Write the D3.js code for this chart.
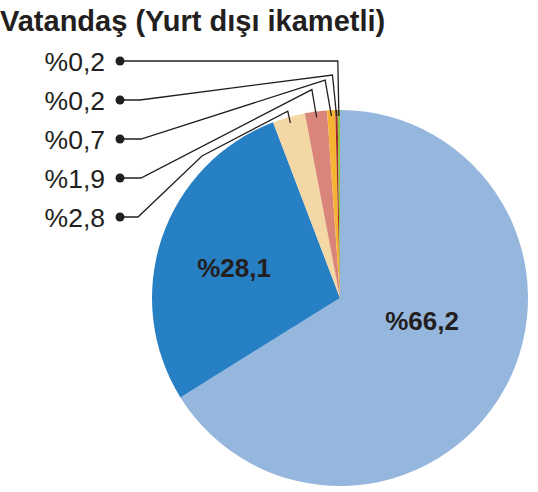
<!DOCTYPE html>
<html>
<head>
<meta charset="utf-8">
<script src="https://cdn.jsdelivr.net/npm/d3@7"></script>
<style>
  body { margin: 0; background: #fff; }
  svg { display: block; font-family: "Liberation Sans", Arial, Helvetica, sans-serif; }
</style>
</head>
<body>
<svg id="chart"></svg>
<script>
// Data
const title = "Vatandaş (Yurt dışı ikametli)";
const categories = ["a", "b", "c", "d", "e", "f", "g"];
const values = [66.2, 28.1, 2.8, 1.9, 0.7, 0.2, 0.2];
const valueLabels = ["%66,2", "%28,1", "%2,8", "%1,9", "%0,7", "%0,2", "%0,2"];
const colors = ["#95b6dd", "#2880c4", "#f3d8a6", "#d9857a", "#f7b334", "#a3262a", "#8dc63f"];

// Constants
const width = 538;
const height = 492;
const cx = 340;
const cy = 298;
const radius = 188;

const svg = d3.select("#chart")
    .attr("width", width)
    .attr("height", height);

svg.append("text")
    .attr("x", 0)
    .attr("y", 31)
    .attr("font-size", 29)
    .attr("font-weight", "bold")
    .attr("fill", "#231f20")
    .text(title);

const pie = d3.pie().sort(null).value(d => d);
const arcs = pie(values);

const arc = d3.arc().innerRadius(0).outerRadius(radius);

const g = svg.append("g")
    .attr("transform", `translate(${cx},${cy})`);

g.selectAll("path")
  .data(arcs)
  .enter()
    .append("path")
    .attr("d", arc)
    .attr("fill", (d, i) => colors[i]);

// Big slices: labels inside
const insideLabels = [
  { i: 0, dx: 82, dy: 23 },
  { i: 1, dx: -106, dy: -30 }
];
g.selectAll("text.inside")
  .data(insideLabels)
  .enter()
    .append("text")
    .attr("class", "inside")
    .attr("x", d => d.dx)
    .attr("y", d => d.dy)
    .attr("dy", "0.36em")
    .attr("text-anchor", "middle")
    .attr("font-size", 26)
    .attr("font-weight", "bold")
    .attr("fill", "#231f20")
    .text(d => valueLabels[d.i]);

// Small slices: labels on the left with leader lines
// order from top: g, f, e, d, c
const outside = [6, 5, 4, 3, 2];
const labelY0 = 61;
const labelStep = 39;
const dotX = 120;
// elbow above the slice (rise above edge, shift left) and bend x near the dot
const elbows = [
  { rise: 52, shift: 1, bend: [] },
  { rise: 35, shift: 4, bend: [140] },
  { rise: 30, shift: 6, bend: [141] },
  { rise: 22, shift: 4, bend: [141] },
  { rise: 6, shift: 1, bend: [202, 138] }
];

const edgePoint = (a, r) => {
  const ang = (a.startAngle + a.endAngle) / 2;
  return [cx + r * Math.sin(ang), cy - r * Math.cos(ang)];
};

outside.forEach((idx, k) => {
  const a = arcs[idx];
  const ly = labelY0 + k * labelStep;
  const [ex, ey] = edgePoint(a, radius - 6);
  const [tx, ty] = edgePoint(a, radius);
  const e = elbows[k];
  const elbow = [tx - e.shift, ty - e.rise];
  let pts;
  if (k === 0) {
    pts = [[ex, ey], [elbow[0], ly], [dotX, ly]];
  } else if (k === 4) {
    pts = [[ex, ey], elbow, [202, 156], [138, ly], [dotX, ly]];
  } else {
    pts = [[ex, ey], elbow, [e.bend[0], ly], [dotX, ly]];
  }
  svg.append("path")
      .attr("d", d3.line()(pts))
      .attr("fill", "none")
      .attr("stroke", "#231f20")
      .attr("stroke-width", 1.3);

  svg.append("circle")
      .attr("cx", dotX)
      .attr("cy", ly)
      .attr("r", 4.5)
      .attr("fill", "#231f20");

  svg.append("text")
      .attr("x", 105)
      .attr("y", ly)
      .attr("dy", "0.36em")
      .attr("text-anchor", "end")
      .attr("font-size", 26.5)
      .attr("fill", "#231f20")
      .text(valueLabels[idx]);
});
</script>
</body>
</html>
